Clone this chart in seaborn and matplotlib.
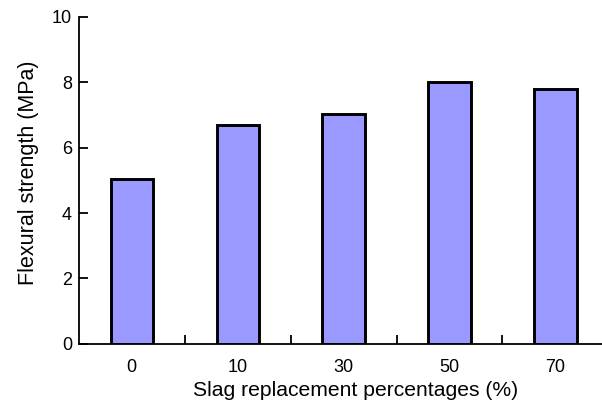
import matplotlib
matplotlib.use("Agg")
import matplotlib.pyplot as plt
import seaborn as sns
import pandas as pd

# Data
slag_pct = ["0", "10", "30", "50", "70"]
flexural_mpa = [5.05, 6.70, 7.02, 8.01, 7.80]
y_ticks = [0, 2, 4, 6, 8, 10]

BAR_COLOR = "#9999FF"

sns.set_style("ticks")
plt.rcParams["font.family"] = ["Liberation Sans", "DejaVu Sans"]
plt.rcParams["text.color"] = "black"
plt.rcParams["axes.labelcolor"] = "black"
plt.rcParams["xtick.color"] = "black"
plt.rcParams["ytick.color"] = "black"
plt.rcParams["axes.edgecolor"] = "black"

df = pd.DataFrame({"slag": slag_pct, "strength": flexural_mpa})

fig = plt.figure(figsize=(6.02, 4.04), dpi=100)
ax = fig.add_axes([0.131, 0.149, 0.869, 0.809])

sns.barplot(
    data=df, x="slag", y="strength", ax=ax,
    color=BAR_COLOR, saturation=1, width=0.4,
    edgecolor="black", linewidth=2.1,
)

ax.set_ylim(0, 10)
ax.set_xlim(-0.5, 4.44)
ax.set_yticks(y_ticks)
ax.set_xticks([0.5, 1.5, 2.5, 3.5], minor=True)

ax.tick_params(axis="y", direction="in", length=6.5, width=1.3, labelsize=13, pad=5)
ax.tick_params(axis="x", which="major", length=0, labelsize=13, pad=11)
ax.tick_params(axis="x", which="minor", direction="in", length=6.5, width=1.3)

for side in ("top", "right"):
    ax.spines[side].set_visible(False)
for side in ("left", "bottom"):
    ax.spines[side].set_linewidth(1.3)

ax.set_xlabel("Slag replacement percentages (%)", fontsize=15.2)
ax.set_ylabel("Flexural strength (MPa)", fontsize=15.5)
# the original labels sit a little off the axes centre
ax.xaxis.set_label_coords(0.528, -0.113)
ax.yaxis.set_label_coords(-0.077, 0.523)

fig.savefig("out.png", dpi=100)
